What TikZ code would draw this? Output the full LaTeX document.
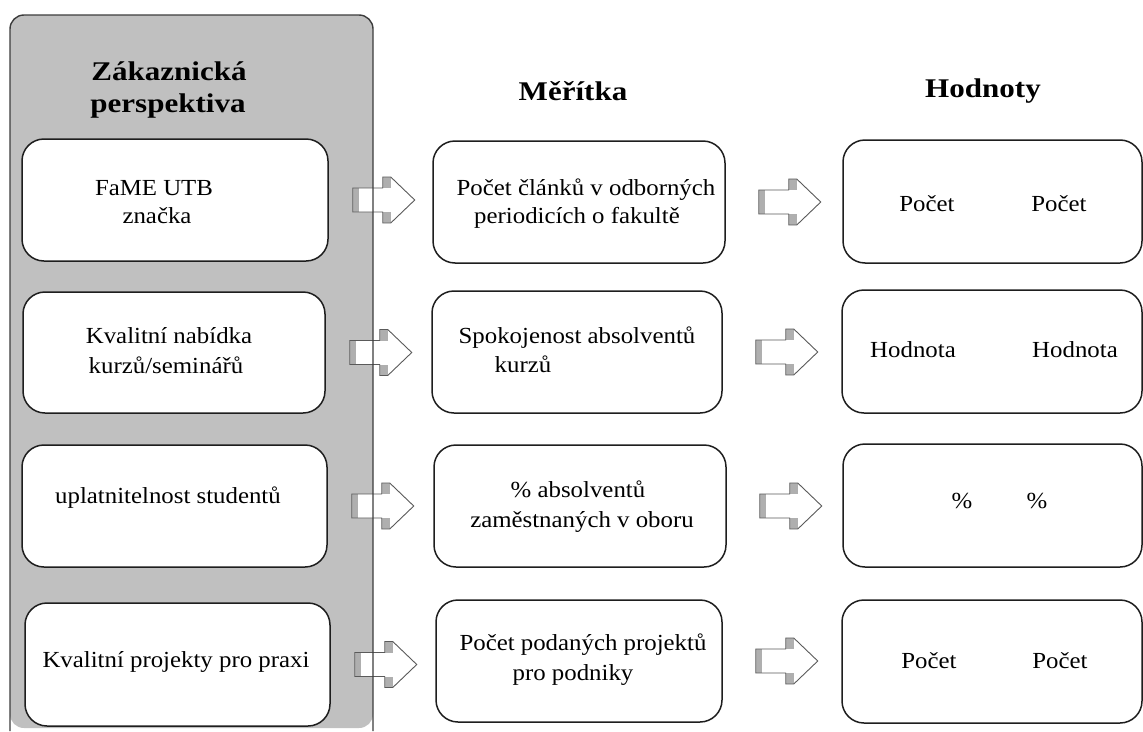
\documentclass[tikz,border=0pt]{standalone}
\usepackage{fontspec}
\setmainfont{Liberation Serif}[FakeStretch=1.08]
\newfontfamily\headfont{Liberation Serif}[FakeStretch=1.15]
\usetikzlibrary{calc}
\definecolor{panelgray}{RGB}{192,192,192}
\definecolor{panelline}{RGB}{60,60,60}
\definecolor{boxline}{RGB}{30,30,30}
\definecolor{arrowline}{RGB}{90,90,90}
\definecolor{arrowshade}{RGB}{175,175,175}
\tikzset{
  box/.style={draw=boxline, fill=white, line width=1.5pt, rounded corners=22pt, inner sep=0pt},
  txt/.style={font=\fontsize{23}{28}\selectfont, anchor=base, inner sep=0pt},
  head/.style={font=\headfont\bfseries\fontsize{27}{33}\selectfont, anchor=base, inner sep=0pt},
  blockarrow/.pic={
    \path[fill=white] (0,-12) -- (30,-12) -- (30,-23) -- (38,-23) -- (62,0)
      -- (38,23) -- (30,23) -- (30,12) -- (0,12) -- cycle;
    \fill[arrowshade] (0,-12) rectangle (6,12);
    \fill[arrowshade] (30,-23) rectangle (38,-12);
    \fill[arrowshade] (30,12) rectangle (38,23);
    \draw[arrowline, line width=0.9pt, line join=miter]
      (0,-12) -- (30,-12) -- (30,-23) -- (38,-23) -- (62,0)
      -- (38,23) -- (30,23) -- (30,12) -- (0,12) -- cycle;
  }
}
\begin{document}
\begin{tikzpicture}[x=1pt, y=-1pt]
  \useasboundingbox[fill=white] (0,0) rectangle (1143,731);

  % grey column behind the customer-perspective goals
  \fill[panelgray, rounded corners=14pt] (10,728) -- (10,15) -- (373,15) -- (373,728) -- cycle;

  % column headings
  \node[head] (h1a) at (169,80) {Zákaznická};
  \node[head] (h1b) at (168,112) {perspektiva};
  \node[head] (h2) at (573,100) {Měřítka};
  \node[head] (h3) at (983,97) {Hodnoty};

  % goals
  \node[box, minimum width=306pt, minimum height=122pt] (L1) at (175,200) {};
  \node[box, minimum width=302pt, minimum height=121pt] (L2) at (174,352.5) {};
  \node[box, minimum width=305pt, minimum height=122pt] (L3) at (174.5,506) {};
  \node[box, minimum width=305pt, minimum height=123pt] (L4) at (177.5,664.5) {};

  % measures
  \node[box, minimum width=292pt, minimum height=122pt] (M1) at (579,202) {};
  \node[box, minimum width=290pt, minimum height=122pt] (M2) at (577,352) {};
  \node[box, minimum width=292pt, minimum height=122pt] (M3) at (580,506) {};
  \node[box, minimum width=286pt, minimum height=122pt] (M4) at (579,661) {};

  % values
  \node[box, minimum width=299pt, minimum height=123pt] (R1) at (992.5,201.5) {};
  \node[box, minimum width=300pt, minimum height=123pt] (R2) at (992,351.5) {};
  \node[box, minimum width=299pt, minimum height=123pt] (R3) at (992.5,505.5) {};
  \node[box, minimum width=300pt, minimum height=123pt] (R4) at (992,661.5) {};

  % block arrows goal -> measure -> value
  \foreach \r in {1,2,3,4}{
    \pic at ($(L\r.east)+(24,0)$) {blockarrow};
    \pic at ($(M\r.east)+(33,0)$) {blockarrow};
  }

  % outline of the grey column, drawn over the arrow tails
  \draw[panelline, line width=1.4pt, rounded corners=14pt] (10,731) -- (10,15) -- (373,15) -- (373,731);

  % goal texts
  \node[txt] (t11) at (154,195) {FaME UTB};
  \node[txt] (t12) at (157,223) {značka};
  \node[txt] (t21) at (169,343) {Kvalitní nabídka};
  \node[txt] (t22) at (166,373) {kurzů/seminářů};
  \node[txt] (t31) at (168,503) {uplatnitelnost studentů};
  \node[txt] (t41) at (176,667) {Kvalitní projekty pro praxi};

  % measure texts
  \node[txt] (m11) at (586,195) {Počet článků v odborných};
  \node[txt] (m12) at (577,223) {periodicích o fakultě};
  \node[txt] (m21) at (577,343) {Spokojenost absolventů};
  \node[txt] (m22) at (523,372) {kurzů};
  \node[txt] (m31) at (578,497) {\% absolventů};
  \node[txt] (m32) at (582,527) {zaměstnaných v oboru};
  \node[txt] (m41) at (583,650) {Počet podaných projektů};
  \node[txt] (m42) at (573,680) {pro podniky};

  % value texts
  \node[txt] (v11) at (927,211) {Počet};
  \node[txt] (v12) at (1059,211) {Počet};
  \node[txt] (v21) at (913,357) {Hodnota};
  \node[txt] (v22) at (1075,357) {Hodnota};
  \node[txt] (v31) at (962,508) {\%};
  \node[txt] (v32) at (1037,508) {\%};
  \node[txt] (v41) at (929,668) {Počet};
  \node[txt] (v42) at (1060,668) {Počet};
\end{tikzpicture}
\end{document}
